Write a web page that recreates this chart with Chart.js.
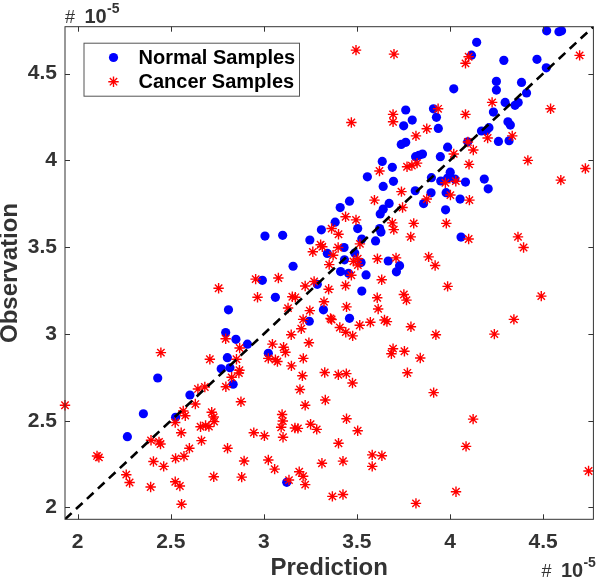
<!DOCTYPE html>
<html><head><meta charset="utf-8">
<script src="https://cdn.jsdelivr.net/npm/chart.js@4.4.1/dist/chart.umd.min.js"></script>
<style>html,body{margin:0;padding:0;background:#fff;}canvas{display:block;}</style>
</head><body>
<canvas id="c" width="600" height="578"></canvas>
<script>
// Values in units of 1e-5
const normalPred = [4.599,4.585,4.519,4.143,4.115,4.289,4.467,4.517,4.249,4.249,4.384,4.411,4.020,4.296,4.349,4.366,4.233,4.311,4.324,4.209,4.194,4.169,4.260,4.317,3.762,3.911,3.927,3.797,3.751,3.937,3.762,3.738,3.987,4.095,3.815,3.833,3.852,3.948,3.636,3.690,3.556,3.696,3.641,3.900,3.950,4.001,3.987,4.026,4.083,4.184,4.205,3.813,3.898,3.979,4.054,3.858,3.976,3.460,3.410,3.383,3.309,3.247,3.504,3.625,3.641,3.673,3.622,3.629,3.526,3.600,4.059,3.431,3.341,3.488,3.433,3.522,3.412,3.455,3.549,3.668,3.729,3.712,3.287,3.526,3.006,3.101,3.157,2.992,3.062,2.810,3.320,3.244,2.795,2.850,2.912,3.024,2.804,2.771,2.818,2.835,2.430,2.603,2.353,2.526,2.267,3.123,3.460];
const normalObs = [4.746,4.741,4.746,4.680,4.606,4.576,4.582,4.533,4.455,4.405,4.449,4.388,4.412,4.334,4.317,4.333,4.278,4.222,4.203,4.188,4.171,4.169,4.109,4.113,4.290,4.297,4.248,4.232,4.199,4.184,4.104,4.092,4.076,4.107,4.021,4.029,4.036,4.021,3.994,3.960,3.905,3.879,3.850,3.900,3.881,3.932,3.898,3.892,3.875,3.892,3.836,3.825,3.813,3.814,3.777,3.751,3.715,3.765,3.728,3.644,3.600,3.541,3.607,3.691,3.719,3.752,3.607,3.587,3.547,3.536,3.558,3.498,3.464,3.466,3.427,3.412,3.359,3.349,3.340,3.420,3.393,3.358,3.286,3.247,3.564,3.568,3.390,3.309,3.211,3.139,3.139,3.073,3.008,2.969,2.941,2.888,2.863,2.799,2.805,2.710,2.746,2.648,2.540,2.520,2.408,2.145,3.090];
const cancerPred = [3.495,3.699,4.100,4.083,4.696,4.226,4.540,3.470,3.694,3.694,3.936,4.083,3.875,3.817,4.202,4.334,4.096,4.125,4.020,4.102,4.418,4.727,4.595,3.769,3.795,3.823,3.621,3.975,4.031,3.739,3.875,4.002,4.104,3.594,3.745,3.439,3.495,3.690,3.698,3.805,3.980,3.789,4.100,4.365,4.395,3.364,3.401,3.305,3.314,3.263,3.399,3.516,3.372,3.351,3.481,3.504,3.505,3.610,3.710,3.885,3.920,3.470,3.633,3.270,3.222,3.439,3.348,3.987,2.956,3.078,2.757,2.966,3.153,3.169,3.130,3.247,3.323,3.211,3.201,3.147,3.242,3.046,3.106,3.116,2.795,2.870,3.609,3.614,3.752,3.766,3.444,3.358,3.364,3.408,3.440,3.477,3.515,3.572,3.648,3.661,3.790,3.924,4.490,4.343,4.238,3.685,3.694,3.755,3.840,3.771,3.912,4.124,4.086,4.032,3.817,3.582,3.634,3.582,3.444,3.504,3.401,3.425,3.312,3.368,3.425,3.251,3.284,3.183,3.190,3.211,3.222,4.744,3.212,3.207,3.194,3.222,3.327,3.330,3.400,3.443,3.476,2.710,2.853,3.024,3.062,3.073,3.148,2.869,2.866,2.827,2.796,2.646,2.632,2.683,2.877,2.720,2.731,2.733,2.660,2.687,2.705,3.098,3.102,3.093,3.167,3.103,2.946,3.003,2.665,2.805,2.894,3.024,3.058,2.731,2.881,3.135,2.447,1.932,2.567,2.578,2.524,2.556,2.394,2.437,2.445,2.600,2.571,2.526,2.407,2.462,2.104,2.114,2.261,2.279,2.392,2.524,2.549,2.558];
const cancerObs = [4.635,4.612,4.597,4.559,4.605,4.334,4.297,4.218,4.265,4.222,4.297,4.265,4.182,4.141,4.129,4.141,4.106,4.060,4.037,3.977,4.000,3.953,3.886,3.963,3.970,3.984,3.939,3.871,3.880,3.820,3.777,3.800,3.771,3.771,3.728,3.675,3.657,3.640,3.601,3.637,3.637,3.559,3.547,3.559,3.498,3.607,3.574,3.514,3.502,3.473,3.498,3.519,3.453,3.399,3.418,3.433,3.397,3.433,3.438,3.444,3.394,3.338,3.312,3.302,3.276,3.279,3.257,3.274,3.316,3.322,3.263,3.211,3.214,3.211,3.149,3.134,3.185,3.084,3.030,2.995,2.949,2.941,2.923,2.894,2.972,2.919,3.208,3.144,3.227,3.195,3.156,3.089,3.083,3.037,3.010,2.989,3.050,3.067,3.080,3.071,3.041,2.995,3.218,3.084,2.999,2.886,2.915,2.900,2.861,2.776,2.662,2.509,2.352,2.091,2.024,2.303,2.298,2.237,2.511,2.442,2.370,2.267,2.255,2.064,2.075,2.480,2.450,2.456,2.206,2.180,2.132,2.210,2.859,2.759,2.680,2.589,2.778,2.619,2.765,2.771,2.717,2.854,2.854,2.859,2.852,2.841,2.816,2.791,2.775,2.750,2.696,2.683,2.596,2.694,2.609,2.549,2.521,2.495,2.465,2.472,2.466,2.536,2.498,2.462,2.458,2.405,2.431,2.413,2.385,2.341,2.268,2.274,2.221,2.177,2.175,2.158,2.892,2.589,2.556,2.529,2.490,2.431,2.387,2.378,2.366,2.341,2.295,2.283,2.265,2.237,2.297,2.289,2.189,2.144,2.118,2.148,2.124,2.019];
const axisRange = [1.932, 4.770];
const tickValues = [2, 2.5, 3, 3.5, 4, 4.5];
const seriesNames = ['Normal Samples', 'Cancer Samples'];
const xTitle = 'Prediction';
const yTitle = 'Observation';
const exponentBase = '10';
const exponentPower = '-5';

const FONT = '"Liberation Sans", Arial, Helvetica, sans-serif';
const AXIS_COLOR = '#333333';
const BLUE = '#0000ff';
const RED = '#ff0000';
const DOT_R = 4.6;
const STAR_R = 5.2;
const STAR_W = 1.4;

function pts(xs, ys) { return xs.map((x, i) => ({ x: x, y: ys[i] })); }

function drawStar(ctx, x, y, r) {
  ctx.beginPath();
  ctx.moveTo(x - r, y); ctx.lineTo(x + r, y);
  ctx.moveTo(x, y - r); ctx.lineTo(x, y + r);
  const d = r * Math.SQRT1_2;
  ctx.moveTo(x - d, y - d); ctx.lineTo(x + d, y + d);
  ctx.moveTo(x - d, y + d); ctx.lineTo(x + d, y - d);
  ctx.stroke();
}

function drawExponent(ctx, x, baseline) {
  ctx.fillStyle = AXIS_COLOR;
  ctx.textAlign = 'left';
  ctx.textBaseline = 'alphabetic';
  ctx.font = '18px ' + FONT;
  ctx.fillText('#', x, baseline);
  ctx.font = 'bold 20px ' + FONT;
  ctx.fillText(exponentBase, x + 19.5, baseline);
  ctx.font = 'bold 14px ' + FONT;
  ctx.fillText(exponentPower, x + 42, baseline - 9.5);
}

const boxPlugin = {
  id: 'matlabBox',
  afterDatasetsDraw(chart) {
    const { ctx, chartArea: a, scales } = chart;
    ctx.save();
    ctx.strokeStyle = AXIS_COLOR;
    ctx.lineWidth = 1;
    ctx.strokeRect(a.left, a.top, a.right - a.left, a.bottom - a.top);
    const L = 5;
    ctx.beginPath();
    scales.x.ticks.forEach(t => {
      const px = Math.round(scales.x.getPixelForValue(t.value)) + 0.5;
      ctx.moveTo(px, a.bottom); ctx.lineTo(px, a.bottom - L);
      ctx.moveTo(px, a.top); ctx.lineTo(px, a.top + L);
    });
    scales.y.ticks.forEach(t => {
      const py = Math.round(scales.y.getPixelForValue(t.value)) + 0.5;
      ctx.moveTo(a.left, py); ctx.lineTo(a.left + L, py);
      ctx.moveTo(a.right, py); ctx.lineTo(a.right - L, py);
    });
    ctx.stroke();
    ctx.restore();
  },
  afterDraw(chart) {
    const { ctx, chartArea: a } = chart;
    ctx.save();
    const lx = a.left + 18.5, ly = a.top + 16, lw = 215.5, lh = 53;
    ctx.fillStyle = '#ffffff';
    ctx.fillRect(lx, ly, lw, lh);
    ctx.strokeStyle = '#555555';
    ctx.lineWidth = 1;
    ctx.strokeRect(lx + 0.5, ly + 0.5, lw, lh);
    const ds = chart.data.datasets;
    const rows = [ly + 14.8, ly + 39];
    ctx.fillStyle = ds[0].backgroundColor;
    ctx.beginPath(); ctx.arc(lx + 30, rows[0], DOT_R, 0, Math.PI * 2); ctx.fill();
    ctx.strokeStyle = ds[1].borderColor; ctx.lineWidth = STAR_W;
    drawStar(ctx, lx + 30, rows[1], STAR_R);
    ctx.fillStyle = '#000000';
    ctx.font = 'bold 20px ' + FONT;
    ctx.textAlign = 'left';
    ctx.textBaseline = 'middle';
    ctx.fillText(ds[0].label, lx + 55, rows[0] + 1);
    ctx.fillText(ds[1].label, lx + 55, rows[1] + 1);
    drawExponent(ctx, a.left, a.top - 4);
    drawExponent(ctx, a.right - 52, 576.7);
    ctx.restore();
  }
};

const tickFont = { family: FONT, size: 21, weight: 'bold' };
const titleFont = { family: FONT, size: 24, weight: 'bold', lineHeight: 1 };

new Chart(document.getElementById('c'), {
  type: 'scatter',
  data: {
    datasets: [
      {
        label: seriesNames[0],
        data: pts(normalPred, normalObs),
        pointStyle: 'circle',
        pointRadius: DOT_R,
        pointBorderWidth: 0,
        backgroundColor: BLUE,
        borderColor: BLUE,
        clip: false,
        order: 2
      },
      {
        label: seriesNames[1],
        data: pts(cancerPred, cancerObs),
        pointStyle: 'star',
        pointRadius: STAR_R,
        pointBorderWidth: STAR_W,
        backgroundColor: RED,
        borderColor: RED,
        clip: false,
        order: 1
      },
      {
        label: 'y = x',
        data: pts(axisRange, axisRange),
        showLine: true,
        borderColor: '#000000',
        borderWidth: 2.6,
        borderDash: [9, 6],
        pointRadius: 0,
        fill: false,
        order: 0
      }
    ]
  },
  options: {
    responsive: false,
    animation: false,
    devicePixelRatio: 1,
    layout: { padding: { top: 26.7, right: 1.7, left: 0, bottom: 0 } },
    plugins: { legend: { display: false }, tooltip: { enabled: false } },
    scales: {
      x: {
        type: 'linear',
        min: axisRange[0], max: axisRange[1],
        afterBuildTicks: s => { s.ticks = tickValues.map(v => ({ value: v })); },
        afterFit: s => { s.height = 58.7; },
        grid: { display: false, drawTicks: false },
        border: { display: false },
        ticks: { font: tickFont, color: AXIS_COLOR, padding: 10.5, maxRotation: 0, autoSkip: false, callback: v => String(v) },
        title: { display: true, text: xTitle, font: titleFont, color: AXIS_COLOR, padding: { top: 0, bottom: -2 } }
      },
      y: {
        type: 'linear',
        min: axisRange[0], max: axisRange[1],
        afterBuildTicks: s => { s.ticks = tickValues.map(v => ({ value: v })); },
        afterFit: s => { s.width = 65; },
        grid: { display: false, drawTicks: false },
        border: { display: false },
        ticks: { font: tickFont, color: AXIS_COLOR, padding: 8, autoSkip: false, callback: v => String(v) },
        title: { display: true, text: yTitle, font: titleFont, color: AXIS_COLOR, padding: { top: -1.5, bottom: 0 } }
      }
    }
  },
  plugins: [boxPlugin]
});
</script>
</body></html>
